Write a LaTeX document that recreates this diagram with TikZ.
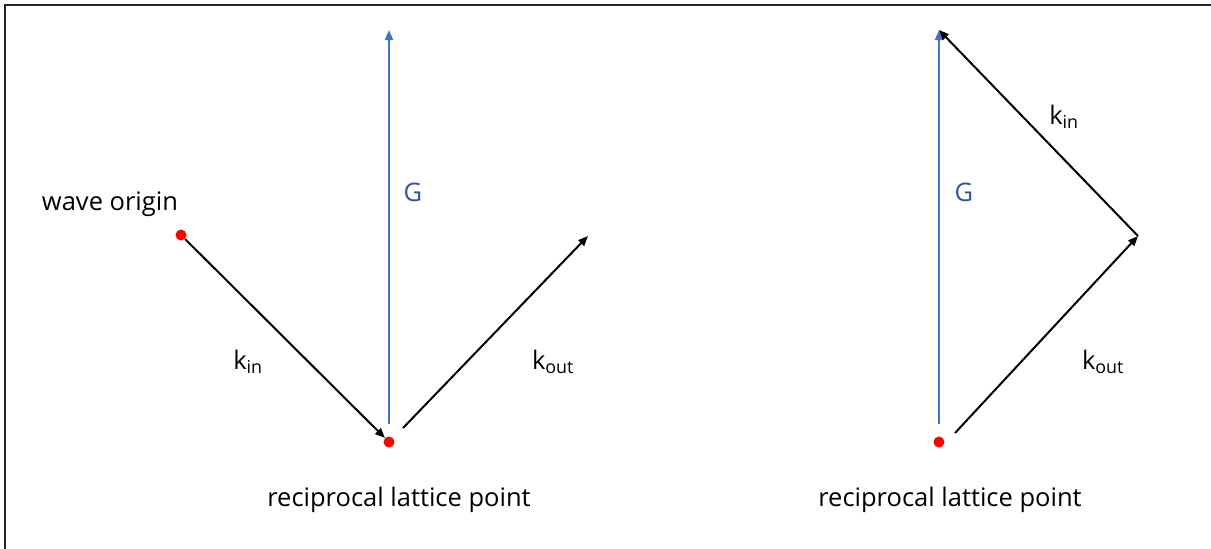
\documentclass[tikz,border=0pt]{standalone}
\usepackage{fontspec}
\setmainfont{Open Sans}
\usetikzlibrary{arrows.meta}
\definecolor{gblue}{HTML}{4472C4}
\definecolor{gtext}{HTML}{2F5597}
\definecolor{dotred}{HTML}{FF0000}
\begin{document}
\begin{tikzpicture}[x=1pt,y=-1pt,
  vec/.style={line width=2pt,-{Triangle[length=10pt,width=8pt]}},
  gvec/.style={vec,gblue},
  dot/.style={circle,fill=dotred,inner sep=0pt,minimum size=11pt},
  lbl/.style={font=\fontsize{25.5}{30}\selectfont,inner sep=0pt},
  glbl/.style={lbl,text=gtext}]
\useasboundingbox (0,0) rectangle (1211,549);
\draw[line width=1.5pt,black!85] (1211,5) -- (5,5) -- (5,549);
% left diagram
\node[dot] (wo) at (181,235) {};
\node[dot] (lp) at (389,442) {};
\coordinate (gtop) at (389,30);
\coordinate (kout1) at (588,236);
\draw[gvec] (389,424) -- (gtop);
\draw[vec] (wo) -- (lp);
\draw[vec] (403,428) -- (kout1);
\node[lbl] (lwo) at (110,204) {wave origin};
\node[glbl] (lg) at (413,192) {G};
\node[lbl] (lkin) at (248,362) {k\textsubscript{in}};
\node[lbl] (lkout) at (553,362) {k\textsubscript{out}};
\node[lbl] (lrl) at (399,500) {reciprocal lattice point};
% right diagram
\node[dot] (lp2) at (939,442) {};
\coordinate (gtop2) at (939,30);
\coordinate (mid2) at (1138,236);
\draw[gvec] (939,424) -- (gtop2);
\draw[vec] (955,433) -- (mid2);
\draw[vec] (mid2) -- (gtop2);
\node[glbl] (rg) at (964,192) {G};
\node[lbl] (rkin) at (1064,117) {k\textsubscript{in}};
\node[lbl] (rkout) at (1103,362) {k\textsubscript{out}};
\node[lbl] (rrl) at (950,500) {reciprocal lattice point};
\end{tikzpicture}
\end{document}
